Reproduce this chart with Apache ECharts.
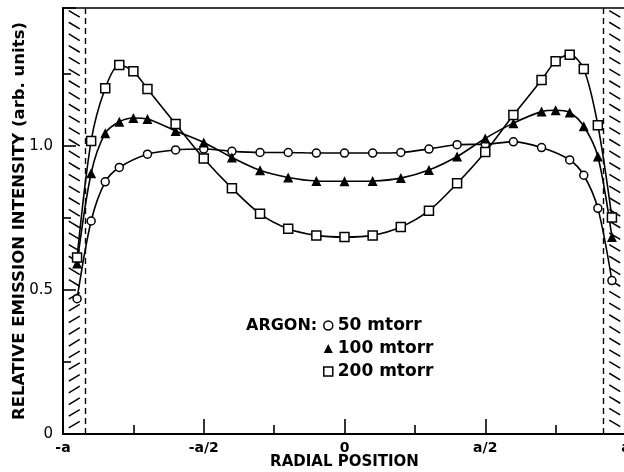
<!DOCTYPE html>
<html>
<head>
<meta charset="utf-8">
<script src="https://cdn.jsdelivr.net/npm/echarts@6/dist/echarts.min.js"></script>
<style>html,body{margin:0;padding:0;background:#fff;}#chart{width:624px;height:472px;}</style>
</head>
<body>
<div id="chart"></div>
<script>
// ---- data ----
const seriesNames = ['50 mtorr', '100 mtorr', '200 mtorr'];

const xCircle = [-0.95,-0.9,-0.85,-0.8,-0.7,-0.6,-0.5,-0.4,-0.3,-0.2,-0.1,0,0.1,0.2,0.3,0.4,0.5,0.6,0.7,0.8,0.85,0.9,0.95];
const yCircle = [0.47,0.74,0.876,0.926,0.972,0.987,0.99,0.982,0.978,0.978,0.976,0.976,0.976,0.978,0.99,1.005,1.007,1.015,0.995,0.952,0.899,0.784,0.533];

const xTri = [-0.95,-0.9,-0.85,-0.8,-0.75,-0.7,-0.6,-0.5,-0.4,-0.3,-0.2,-0.1,0,0.1,0.2,0.3,0.4,0.5,0.6,0.7,0.75,0.8,0.85,0.9,0.95];
const yTri = [0.592,0.906,1.045,1.085,1.098,1.094,1.053,1.013,0.961,0.916,0.891,0.879,0.878,0.879,0.889,0.917,0.964,1.027,1.080,1.120,1.125,1.117,1.069,0.964,0.684];

const xSq = [-0.95,-0.9,-0.85,-0.8,-0.75,-0.7,-0.6,-0.5,-0.4,-0.3,-0.2,-0.1,0,0.1,0.2,0.3,0.4,0.5,0.6,0.7,0.75,0.8,0.85,0.9,0.95];
const ySq = [0.613,1.018,1.201,1.282,1.260,1.199,1.077,0.957,0.854,0.765,0.713,0.690,0.684,0.690,0.719,0.776,0.871,0.980,1.108,1.230,1.295,1.318,1.268,1.073,0.752];

const xTickValues = [-1,-0.5,0,0.5,1];
const xTickText = ['-a','-a/2','0','a/2','a'];
const yTickValues = [0,0.5,1];
const yTickText = ['0','0.5','1.0'];

const wallPos = 0.92;       // dashed wall lines at ±wallPos
const xMin = -1, xMax = 1, yMin = 0, yMax = 1.48;
// hatched wall strips: [x0, x1, y0, y1, direction]
const hatchStrips = [
  [xMin, -wallPos, 0.5, yMax, 1],
  [xMin, -wallPos, yMin, 0.5, -1],
  [wallPos, xMax, yMin, yMax, 1]
];

// ---- build ----
const zip = (xs, ys) => xs.map((x, i) => [x, ys[i]]);
const fontFam = '"DejaVu Sans", "Liberation Sans", sans-serif';
const lookup = (vals, texts) => v => {
  for (let i = 0; i < vals.length; i++) if (Math.abs(vals[i] - v) < 1e-6) return texts[i];
  return '';
};

function renderHatch(params, api) {
  const x0 = api.value(0), x1 = api.value(1), y0 = api.value(2), y1 = api.value(3), dir = api.value(4);
  const tl = api.coord([x0, y1]);
  const br = api.coord([x1, y0]);
  const cx = (tl[0] + br[0]) / 2;
  const step = 11.7, hx = 5.5, hy = 3.3;
  const children = [];
  for (let y = tl[1] + step / 2; y < br[1] - 2; y += step) {
    children.push({
      type: 'line',
      shape: { x1: cx - hx, y1: y - dir * hy, x2: cx + hx, y2: y + dir * hy },
      style: { stroke: '#000', lineWidth: 1.5 }
    });
  }
  return { type: 'group', children };
}

const lineCommon = {
  type: 'line',
  smooth: 0.3,
  lineStyle: { color: '#000', width: 1.6 },
  z: 3
};

const chart = echarts.init(document.getElementById('chart'), null, { renderer: 'canvas' });
chart.setOption({
  animation: false,
  backgroundColor: '#fff',
  title: {
    text: 'ARGON:',
    left: 241, top: 313,
    textStyle: { fontFamily: fontFam, fontSize: 16, fontWeight: 'bold', color: '#000' }
  },
  legend: {
    orient: 'vertical',
    left: 318, top: 312,
    itemGap: 6,
    itemWidth: 9, itemHeight: 9,
    textStyle: { fontFamily: fontFam, fontSize: 17, fontWeight: 'bold', color: '#000' },
    data: [
      { name: seriesNames[0], icon: 'circle', itemStyle: { color: '#fff', borderColor: '#000', borderWidth: 1.5 } },
      { name: seriesNames[1], icon: 'triangle', itemStyle: { color: '#000', borderWidth: 0 } },
      { name: seriesNames[2], icon: 'rect', itemStyle: { color: '#fff', borderColor: '#000', borderWidth: 1.5 } }
    ]
  },
  grid: {
    left: 63, right: -2, top: 8, bottom: 38,
    containLabel: false,
    outerBoundsMode: 'none',
    show: true, borderColor: '#000', borderWidth: 1.5
  },
  xAxis: {
    type: 'value', min: xMin, max: xMax, interval: 0.5,
    name: 'RADIAL POSITION', nameLocation: 'middle', nameGap: 21, nameMoveOverlap: false,
    nameTextStyle: { fontFamily: fontFam, fontSize: 15, fontWeight: 'bold', color: '#000' },
    axisLine: { onZero: false, lineStyle: { color: '#000', width: 2 } },
    axisTick: { inside: true, length: 15, lineStyle: { color: '#000', width: 1.6 } },
    minorTick: { show: true, splitNumber: 2, length: 9, lineStyle: { color: '#000', width: 1.6 } },
    splitLine: { show: false },
    axisLabel: { formatter: lookup(xTickValues, xTickText), margin: 7, fontFamily: fontFam, fontSize: 14, fontWeight: 'bold', color: '#000' }
  },
  yAxis: {
    type: 'value', min: yMin, max: yMax, interval: 0.5,
    name: 'RELATIVE EMISSION INTENSITY (arb. units)', nameLocation: 'middle', nameGap: 35, nameMoveOverlap: false,
    nameTextStyle: { fontFamily: fontFam, fontSize: 16.5, fontWeight: 'bold', color: '#000' },
    axisLine: { onZero: false, lineStyle: { color: '#000', width: 2 } },
    axisTick: { inside: true, length: 13, lineStyle: { color: '#000', width: 1.6 } },
    minorTick: { show: true, splitNumber: 2, length: 8, lineStyle: { color: '#000', width: 1.6 } },
    splitLine: { show: false },
    axisLabel: { formatter: lookup(yTickValues, yTickText), showMaxLabel: false, margin: 10, fontFamily: fontFam, fontSize: 15, color: '#000' }
  },
  series: [
    {
      type: 'custom',
      name: 'walls',
      renderItem: renderHatch,
      data: hatchStrips,
      encode: { x: [0, 1], y: [2, 3] },
      silent: true,
      z: 1,
      markLine: {
        silent: true,
        symbol: ['none', 'none'],
        label: { show: false },
        lineStyle: { color: '#000', width: 1.4, type: [6, 4] },
        data: [{ xAxis: -wallPos }, { xAxis: wallPos }]
      }
    },
    Object.assign({}, lineCommon, {
      name: seriesNames[0],
      data: zip(xCircle, yCircle),
      symbol: 'circle', symbolSize: 8,
      itemStyle: { color: '#fff', borderColor: '#000', borderWidth: 1.5 }
    }),
    Object.assign({}, lineCommon, {
      name: seriesNames[1],
      data: zip(xTri, yTri),
      symbol: 'triangle', symbolSize: 10,
      itemStyle: { color: '#000', borderColor: '#000', borderWidth: 0 }
    }),
    Object.assign({}, lineCommon, {
      name: seriesNames[2],
      data: zip(xSq, ySq),
      symbol: 'rect', symbolSize: 9,
      itemStyle: { color: '#fff', borderColor: '#000', borderWidth: 1.5 }
    })
  ]
});
</script>
</body>
</html>
